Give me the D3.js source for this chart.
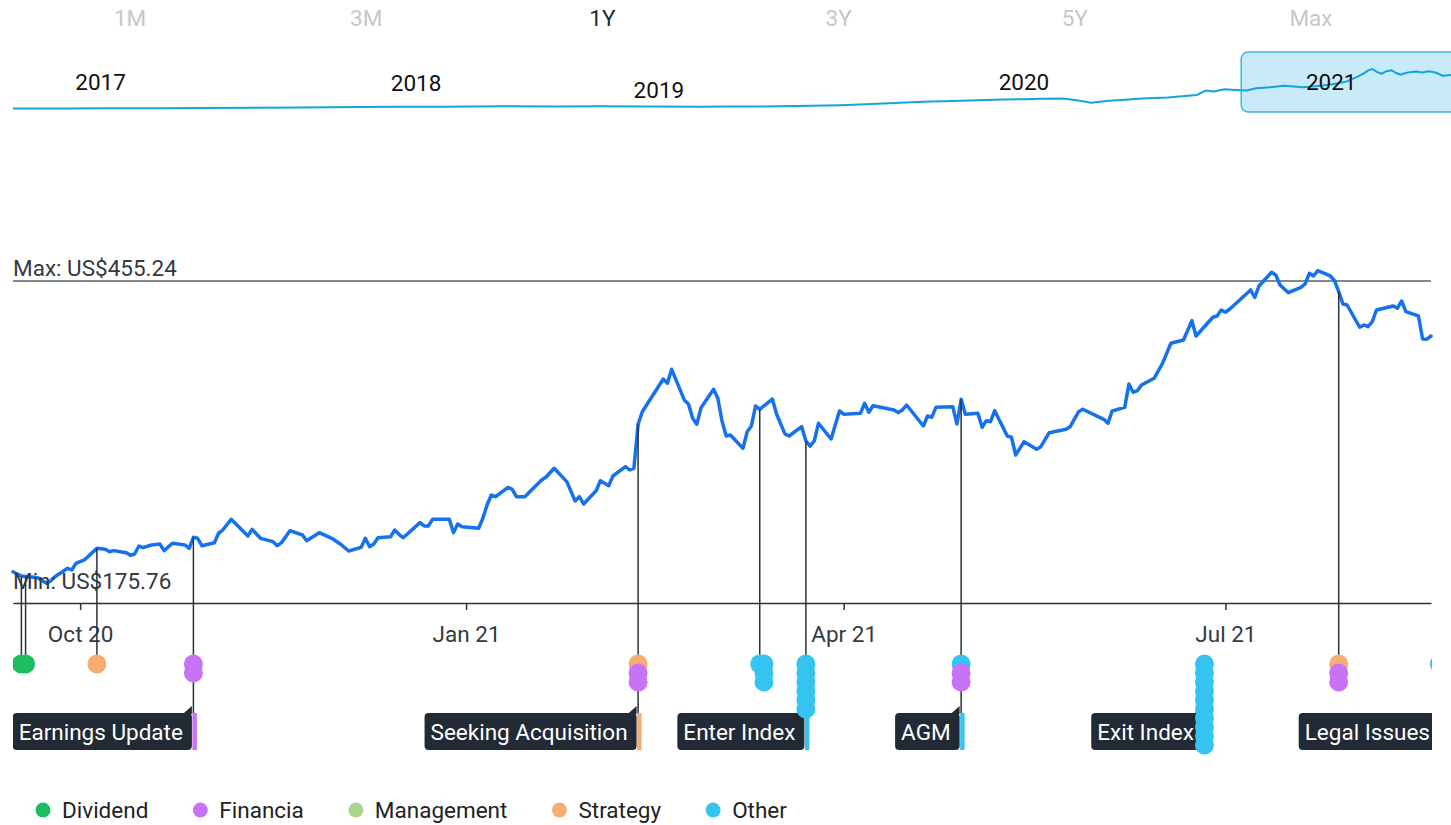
<!DOCTYPE html>
<html>
<head>
<meta charset="utf-8">
<script src="https://cdn.jsdelivr.net/npm/d3@7"></script>
<style>
  html, body { margin: 0; padding: 0; background: #ffffff; }
  svg { display: block; font-family: Roboto, "Noto Sans", "DejaVu Sans", sans-serif; }
</style>
</head>
<body>
<svg id="chart" width="1451" height="825"></svg>
<script>
// ---------------- DATA ----------------
const rangeButtons = ["1M", "3M", "1Y", "3Y", "5Y", "Max"];
const activeRange = "1Y";

const priceMin = 175.76;
const priceMax = 455.24;
const currency = "US$";

const priceDates = [
  "2020-09-15","2020-09-17","2020-09-20","2020-09-21","2020-09-23","2020-09-24","2020-09-25","2020-09-28","2020-09-29","2020-09-30",
  "2020-10-02","2020-10-05","2020-10-07","2020-10-08","2020-10-09","2020-10-12","2020-10-13","2020-10-14","2020-10-15","2020-10-16",
  "2020-10-18","2020-10-20","2020-10-21","2020-10-23","2020-10-26","2020-10-27","2020-10-28","2020-10-29","2020-10-30","2020-11-02",
  "2020-11-03","2020-11-04","2020-11-06","2020-11-10","2020-11-11","2020-11-13","2020-11-16","2020-11-17","2020-11-18","2020-11-20",
  "2020-11-23","2020-11-24","2020-11-27","2020-11-30","2020-12-02","2020-12-04","2020-12-07","2020-12-08","2020-12-09","2020-12-10",
  "2020-12-11","2020-12-14","2020-12-15","2020-12-16","2020-12-17","2020-12-21","2020-12-22","2020-12-23","2020-12-24","2020-12-28",
  "2020-12-29","2020-12-30","2020-12-31","2021-01-04","2021-01-05","2021-01-06","2021-01-07","2021-01-08","2021-01-11","2021-01-12",
  "2021-01-13","2021-01-15","2021-01-19","2021-01-20","2021-01-22","2021-01-25","2021-01-27","2021-01-28","2021-01-29","2021-02-01",
  "2021-02-02","2021-02-04","2021-02-05","2021-02-08","2021-02-09","2021-02-10","2021-02-11","2021-02-12","2021-02-17","2021-02-18",
  "2021-02-19","2021-02-22","2021-02-23","2021-02-24","2021-02-25","2021-02-26","2021-03-01","2021-03-02","2021-03-03","2021-03-04",
  "2021-03-05","2021-03-08","2021-03-09","2021-03-10","2021-03-11","2021-03-12","2021-03-15","2021-03-16","2021-03-18","2021-03-19",
  "2021-03-22","2021-03-23","2021-03-24","2021-03-25","2021-03-26","2021-03-29","2021-03-31","2021-04-01","2021-04-05","2021-04-06",
  "2021-04-07","2021-04-08","2021-04-13","2021-04-14","2021-04-15","2021-04-16","2021-04-20","2021-04-21","2021-04-22","2021-04-23",
  "2021-04-27","2021-04-28","2021-04-29","2021-04-30","2021-05-03","2021-05-04","2021-05-05","2021-05-06","2021-05-07","2021-05-10",
  "2021-05-11","2021-05-12","2021-05-14","2021-05-17","2021-05-18","2021-05-20","2021-05-24","2021-05-25","2021-05-27","2021-05-28",
  "2021-06-02","2021-06-03","2021-06-04","2021-06-07","2021-06-08","2021-06-09","2021-06-10","2021-06-11","2021-06-14","2021-06-16",
  "2021-06-18","2021-06-21","2021-06-23","2021-06-24","2021-06-28","2021-06-29","2021-06-30","2021-07-01","2021-07-02","2021-07-07",
  "2021-07-08","2021-07-09","2021-07-12","2021-07-13","2021-07-14","2021-07-16","2021-07-19","2021-07-20","2021-07-21","2021-07-22",
  "2021-07-23","2021-07-26","2021-07-27","2021-07-28","2021-07-29","2021-07-30","2021-08-02","2021-08-03","2021-08-04","2021-08-05",
  "2021-08-06","2021-08-10","2021-08-11","2021-08-12","2021-08-13","2021-08-16","2021-08-17","2021-08-18","2021-08-19"
];
const priceValues = [
  202.9,199.2,198.1,197.5,192.9,195.1,198.6,205.9,204.4,210.2,
  213.1,223.2,222.4,220.3,221.2,219.4,217.2,218.3,225.2,223.8,
  226.1,227.0,221.2,227.6,226.1,223.2,232.8,231.9,225.5,228.1,
  236.3,239.1,248.4,233.9,239.7,231.9,229.0,225.5,228.1,238.5,
  234.8,229.8,236.8,231.9,227.0,220.9,224.1,231.9,224.6,227.0,
  232.4,233.3,239.1,235.4,232.4,245.5,242.6,242.6,248.4,248.4,
  236.8,244.3,242.0,240.6,249.3,260.8,269.5,268.0,276.2,274.4,
  268.0,268.0,282.5,284.9,292.7,281.1,264.3,268.0,261.7,273.2,
  281.9,277.6,286.0,294.1,291.2,292.7,330.9,341.8,370.2,366.5,
  378.6,352.0,348.5,336.1,330.9,345.3,361.3,353.5,333.8,320.7,
  321.6,310.0,324.4,329.4,346.8,343.9,352.8,339.8,322.5,320.7,
  328.8,316.4,312.0,316.4,331.8,318.1,342.4,339.6,340.4,349.1,
  341.3,347.0,343.3,341.0,343.3,347.6,329.4,338.1,337.0,345.6,
  346.2,331.1,352.6,339.6,340.4,328.3,334.0,333.1,342.7,320.7,
  319.6,304.2,315.8,309.2,311.4,323.6,326.5,328.8,341.8,343.9,
  335.2,331.8,342.4,345.6,365.9,358.6,360.0,365.0,370.8,383.8,
  401.2,404.0,420.8,407.5,423.8,424.9,430.1,428.1,430.7,447.5,
  441.1,450.9,462.8,460.5,451.8,445.1,449.8,452.7,461.9,459.6,
  464.2,459.6,455.5,446.0,435.3,434.4,415.1,417.1,415.6,419.9,
  430.1,433.6,431.6,437.9,428.6,424.9,404.9,404.7,407.5
];

const xTickDates = ["2020-10-01", "2021-01-01", "2021-04-01", "2021-07-01"];

// navigator (full history)
const navDates = [
  "2016-11-12","2017-01-20","2017-02-26","2017-05-10","2017-06-27","2017-09-01","2017-10-26","2018-01-05",
  "2018-02-24","2018-04-20","2018-06-25","2018-08-30","2018-10-24","2018-12-20","2019-02-22","2019-04-01",
  "2019-05-06","2019-06-20","2019-08-11","2019-10-01","2019-11-19","2020-01-05","2020-02-23","2020-03-20",
  "2020-04-10","2020-05-06","2020-05-23","2020-06-09","2020-07-01","2020-07-20","2020-08-10","2020-09-10",
  "2020-10-15","2020-10-26","2020-11-05","2020-11-18","2020-12-01","2020-12-15","2020-12-26","2021-01-12",
  "2021-01-29","2021-02-21","2021-03-15","2021-04-01","2021-04-15","2021-04-24","2021-05-04","2021-05-11",
  "2021-05-16","2021-05-21","2021-05-27","2021-06-02","2021-06-08","2021-06-13","2021-06-19","2021-06-24",
  "2021-06-30","2021-07-08","2021-07-15","2021-07-23","2021-08-01","2021-08-09","2021-08-19"
];
const navValues = [
  59,60,61,62,64,65,68,72,
  75,76,79,78,80,78,76,77,
  77,82,89,104,120,130,141,144,
  147,151,135,111,129,138,151,160,
  182,222,214,234,228,222,243,252,
  265,252,265,284,305,335,372,406,
  418,392,375,398,406,384,366,380,
  388,396,386,397,384,357,364
];
const navYearLabels = ["2017", "2018", "2019", "2020", "2021"];
const navYearDates  = ["2017-02-26", "2018-03-15", "2019-01-03", "2020-03-20", "2021-03-27"];
const navSelection  = ["2020-12-08", "2021-09-30"];

// events
const categories     = ["Dividend", "Financia", "Management", "Strategy", "Other"];
const categoryColors = ["#1cbd61", "#c872f6", "#a9d68b", "#f8ad70", "#35c4f0"];

const eventDates = [
  "2020-09-17","2020-09-18","2020-10-05","2020-10-28","2021-02-11","2021-03-12",
  "2021-03-13","2021-03-23","2021-04-29","2021-06-26","2021-07-28","2021-08-21"
];
const eventTypes = [
  ["Dividend"],
  ["Dividend"],
  ["Strategy"],
  ["Financia","Financia"],
  ["Strategy","Financia","Financia"],
  ["Other"],
  ["Other","Other","Other"],
  ["Other","Other","Other","Other","Other","Other"],
  ["Other","Financia","Financia"],
  ["Other","Other","Other","Other","Other","Other","Other","Other","Other","Other"],
  ["Strategy","Financia","Financia"],
  ["Other"]
];
const eventLabels = [null, null, null, "Earnings Update", "Seeking Acquisition", null,
                     null, "Enter Index", "AGM", "Exit Index", "Legal Issues", null];
const eventOnLine = [true, true, true, true, true, true, false, true, true, false, true, false];

// ---------------- DRAW ----------------
const parse = d3.utcParse("%Y-%m-%d");
const svg = d3.select("#chart");
const FONT = 22.5;
const textColor = "#333a41";

const color = d3.scaleOrdinal(categories, categoryColors);

// Range buttons
const bx = d3.scaleBand().domain(rangeButtons).range([12, 1429]);
svg.append("g").selectAll("text").data(rangeButtons).join("text")
  .attr("x", d => bx(d) + bx.bandwidth() / 2)
  .attr("y", 26)
  .attr("text-anchor", "middle")
  .attr("font-size", FONT)
  .attr("fill", d => d === activeRange ? "#1e2731" : "#c5c7c9")
  .text(d => d);

// Navigator
const navData = navDates.map((d, i) => ({ date: parse(d), value: navValues[i] }));
const nx = d3.scaleUtc().domain(d3.extent(navData, d => d.date)).range([13, 1451]);
const ny = d3.scaleLinear().domain([0, 500]).range([115, 60]);
const nav = svg.append("g");
const s0 = nx(parse(navSelection[0])), s1 = nx(parse(navSelection[1]));
nav.append("rect")
  .attr("x", s0).attr("y", 52).attr("width", s1 - s0).attr("height", 60)
  .attr("rx", 7).attr("fill", "#c8ebf7").attr("stroke", "#3cb8e3").attr("stroke-width", 1.5);
nav.append("path").datum(navData)
  .attr("fill", "none").attr("stroke", "#13a4dc").attr("stroke-width", 2)
  .attr("stroke-linejoin", "round")
  .attr("d", d3.line().x(d => nx(d.date)).y(d => ny(d.value)));
const navLabelDy = [0, 1, 8, 0, 0];
nav.selectAll("text.year").data(navYearLabels).join("text")
  .attr("class", "year")
  .attr("x", (d, i) => nx(parse(navYearDates[i])))
  .attr("y", (d, i) => 90 + navLabelDy[i])
  .attr("text-anchor", "middle")
  .attr("font-size", FONT)
  .attr("fill", "#111")
  .text(d => d);

// Main chart scales
const data = priceDates.map((d, i) => ({ date: parse(d), value: priceValues[i] }));
const x = d3.scaleUtc().domain([parse("2020-09-15"), parse("2021-08-19")]).range([13, 1431]);
const y = d3.scaleLinear().domain([priceMin, priceMax]).range([603, 281]);

// Max line & labels
svg.append("line")
  .attr("x1", 13).attr("x2", 1431).attr("y1", y(priceMax)).attr("y2", y(priceMax))
  .attr("stroke", "#56616b").attr("stroke-width", 1.3);
svg.append("text").attr("x", 13).attr("y", y(priceMax) - 5)
  .attr("font-size", FONT).attr("fill", textColor)
  .text("Max: " + currency + priceMax.toFixed(2));

// Price line
svg.append("path").datum(data)
  .attr("fill", "none").attr("stroke", "#1672ec").attr("stroke-width", 3.5)
  .attr("stroke-linejoin", "round").attr("stroke-linecap", "round")
  .attr("d", d3.line().x(d => x(d.date)).y(d => y(d.value)));

svg.append("text").attr("x", 13).attr("y", y(priceMin) - 14)
  .attr("font-size", FONT).attr("fill", textColor)
  .text("Min: " + currency + priceMin.toFixed(2));

// Axis
const axis = d3.axisBottom(x)
  .tickValues(xTickDates.map(parse))
  .tickFormat(d3.utcFormat("%b %y"))
  .tickSize(7).tickSizeOuter(0).tickPadding(16);
const gx = svg.append("g").attr("transform", `translate(0,${y(priceMin)})`).call(axis);
gx.attr("font-family", null).attr("font-size", null);
gx.select(".domain").attr("stroke", "#2a323b").attr("stroke-width", 1.5);
gx.selectAll(".tick line").attr("stroke", "#2a323b").attr("stroke-width", 1.5);
gx.selectAll(".tick text").attr("font-size", FONT).attr("fill", textColor);

// Events
const bisect = d3.bisector(d => d.date).left;
function priceAt(date) {
  const i = bisect(data, date);
  if (i <= 0) return data[0].value;
  if (i >= data.length) return data[data.length - 1].value;
  const a = data[i - 1], b = data[i];
  const t = (date - a.date) / (b.date - a.date);
  return a.value + t * (b.value - a.value);
}

svg.append("clipPath").attr("id", "evclip")
  .append("rect").attr("x", 13).attr("y", 0).attr("width", 1419).attr("height", 825);
const ev = svg.append("g").attr("clip-path", "url(#evclip)");

const DOT_Y = 664, DOT_STEP = 9, DOT_R = 9.5;
const BOX_TOP = 713, BOX_H = 37;

const events = eventDates.map((d, i) => ({
  date: parse(d), types: eventTypes[i], label: eventLabels[i], onLine: eventOnLine[i]
}));

const boxLayer = ev.append("g");
const lineLayer = ev.append("g");
const dotLayer = ev.append("g");
let prevRight = -Infinity;
events.forEach(e => {
  e.attached = false;
  if (!e.label) return;
  const xe = x(e.date);
  const t = boxLayer.append("text")
    .attr("font-size", FONT).attr("fill", "#ffffff").attr("y", BOX_TOP + 27).text(e.label);
  const tw = t.node().getComputedTextLength();
  const bw = tw + 15;
  let right = xe - 1.5, left = right - bw;
  e.attached = true;
  if (left < prevRight + 4) {
    left = xe - 40; right = left + bw + 3; e.attached = false;
  }
  prevRight = right + 4;
  boxLayer.insert("rect", "text")
    .attr("x", left).attr("y", BOX_TOP).attr("width", right - left).attr("height", BOX_H)
    .attr("rx", 4).attr("fill", "#212a35");
  if (e.attached) {
    boxLayer.insert("path", "text")
      .attr("d", `M${right - 9},${BOX_TOP + 1}L${right},${BOX_TOP - 7}L${right},${BOX_TOP + 1}Z`)
      .attr("fill", "#212a35");
  }
  boxLayer.append("rect")
    .attr("x", e.attached ? xe - 1 : right).attr("y", BOX_TOP).attr("width", 4.5).attr("height", BOX_H)
    .attr("fill", color(e.types[0]));
  t.attr("x", left + 6).raise();
});

events.forEach(e => {
  const xe = x(e.date);
  const yTop = e.onLine ? y(priceAt(e.date)) : DOT_Y;
  const yBot = e.attached ? BOX_TOP : DOT_Y;
  if (yBot > yTop) {
    lineLayer.append("line")
      .attr("x1", xe).attr("x2", xe).attr("y1", yTop).attr("y2", yBot)
      .attr("stroke", "#2a323b").attr("stroke-width", 1.5);
  }
});

events.forEach(e => {
  const xe = x(e.date);
  dotLayer.append("g").selectAll("circle").data(e.types).join("circle")
    .attr("cx", xe).attr("cy", (d, i) => DOT_Y + i * DOT_STEP)
    .attr("r", DOT_R).attr("fill", d => color(d));
});

// Legend
const lg = svg.append("g");
let lx = 43;
categories.forEach(c => {
  lg.append("circle").attr("cx", lx).attr("cy", 810).attr("r", 7.5).attr("fill", color(c));
  const t = lg.append("text").attr("x", lx + 19).attr("y", 818)
    .attr("font-size", FONT).attr("fill", "#222").text(c);
  lx = lx + 19 + t.node().getComputedTextLength() + 52;
});
</script>
</body>
</html>
